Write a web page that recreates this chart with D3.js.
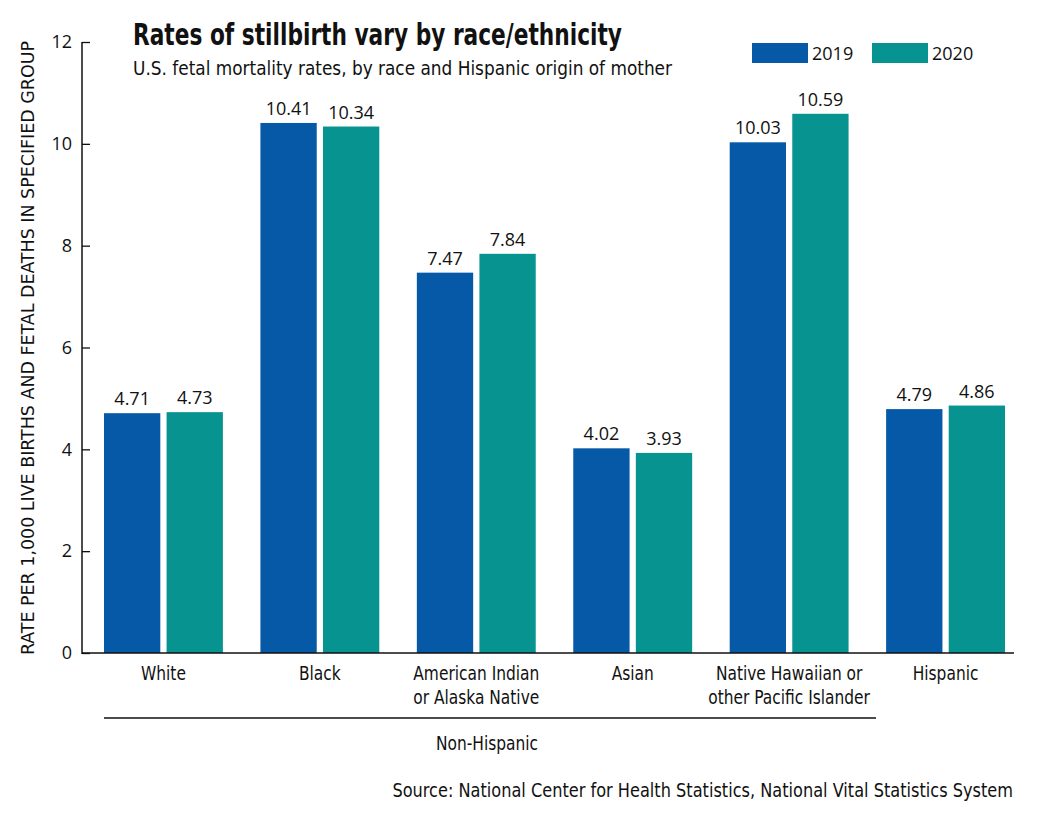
<!DOCTYPE html>
<html lang="en">
<head>
<meta charset="UTF-8">
<title>Rates of stillbirth vary by race/ethnicity</title>
<style>
    body { margin: 0; background: #fff; }
    svg { display: block; }
    .cond { font-family: "Liberation Sans Narrow", "DejaVu Sans Condensed", "Roboto", sans-serif; fill: #111; }
    .num { font-family: "Open Sans", "DejaVu Sans", sans-serif; fill: #111; }
</style>
<script src="https://d3js.org/d3.v7.min.js"></script>
</head>
<body>
<div id="graph"></div>
<script>
const categories = [
    ["White"],
    ["Black"],
    ["American Indian", "or Alaska Native"],
    ["Asian"],
    ["Native Hawaiian or", "other Pacific Islander"],
    ["Hispanic"]
];
const years = ["2019", "2020"];
const values2019 = [4.71, 10.41, 7.47, 4.02, 10.03, 4.79];
const values2020 = [4.73, 10.34, 7.84, 3.93, 10.59, 4.86];
const yTicks = [0, 2, 4, 6, 8, 10, 12];
const colors = { "2019": "#0559a7", "2020": "#079390" };

const width = 1042, height = 817;
const svg = d3.select("#graph").append("svg")
    .attr("width", width).attr("height", height);

const keys = categories.map(c => c.join(" "));
const data = keys.map((k, i) => ({ key: k, lines: categories[i], "2019": values2019[i], "2020": values2020[i] }));

const x0 = d3.scaleBand().domain(keys).range([104, 1005]).paddingInner(0.24).paddingOuter(0);
const x1 = d3.scaleBand().domain(years).range([0, x0.bandwidth()]).paddingInner(0.1);
const y = d3.scaleLinear().domain([0, 12]).range([653, 42]);

// y axis, ticks pointing inward
const yAxis = svg.append("g")
    .attr("transform", "translate(82,0)")
    .call(d3.axisRight(y).tickValues(yTicks).tickSize(8).tickFormat(d3.format("d")));
yAxis.select(".domain").remove();
yAxis.selectAll("line").attr("stroke", "#111").attr("stroke-width", 1.3);
yAxis.selectAll("text")
    .attr("class", "num")
    .attr("x", -10)
    .attr("text-anchor", "end")
    .style("font-size", "18px");
svg.append("line").attr("x1", 82).attr("x2", 82).attr("y1", y(12)).attr("y2", y(0) + 1)
    .attr("stroke", "#111").attr("stroke-width", 1.5);

// bars
const groups = svg.append("g").selectAll("g").data(data).enter().append("g")
    .attr("transform", d => `translate(${x0(d.key)},0)`);

groups.selectAll("rect")
    .data(d => years.map(yr => ({ yr, v: d[yr] })))
    .enter().append("rect")
    .attr("x", d => x1(d.yr))
    .attr("width", x1.bandwidth())
    .attr("y", d => y(d.v))
    .attr("height", d => y(0) - y(d.v))
    .attr("fill", d => colors[d.yr]);

groups.selectAll("text.val")
    .data(d => years.map(yr => ({ yr, v: d[yr] })))
    .enter().append("text")
    .attr("class", "num val")
    .attr("x", d => x1(d.yr) + x1.bandwidth() / 2)
    .attr("y", d => y(d.v) - 8)
    .attr("text-anchor", "middle")
    .style("font-size", "18px")
    .text(d => d3.format(".2f")(d.v));

// x axis baseline
svg.append("line").attr("x1", 82).attr("x2", 1014).attr("y1", y(0)).attr("y2", y(0))
    .attr("stroke", "#111").attr("stroke-width", 1.5);

// category labels, squeezed horizontally to mimic a condensed face
groups.each(function (d) {
    const t = d3.select(this).append("g")
        .attr("transform", `translate(${x0.bandwidth() / 2},0) scale(0.88,1)`)
        .append("text")
        .attr("class", "cond")
        .attr("text-anchor", "middle")
        .style("font-size", "19.5px");
    d.lines.forEach((ln, i) => {
        t.append("tspan").attr("x", 0).attr("y", 680 + i * 24).text(ln);
    });
});

// Non-Hispanic bracket
svg.append("line").attr("x1", 104).attr("x2", 876).attr("y1", 718).attr("y2", 718)
    .attr("stroke", "#111").attr("stroke-width", 1.3);
svg.append("g").attr("transform", "translate(487,0) scale(0.88,1)")
    .append("text").attr("class", "cond").attr("x", 0).attr("y", 750)
    .attr("text-anchor", "middle").style("font-size", "19.5px").text("Non-Hispanic");

// y axis title
svg.append("text").attr("class", "cond")
    .attr("transform", "translate(34,348) rotate(-90)")
    .attr("text-anchor", "middle")
    .style("font-size", "18px")
    .attr("textLength", 614).attr("lengthAdjust", "spacingAndGlyphs")
    .text("RATE PER 1,000 LIVE BIRTHS AND FETAL DEATHS IN SPECIFIED GROUP");

// title and subtitle
svg.append("text").attr("class", "cond").attr("x", 133).attr("y", 45)
    .style("font-size", "30px").style("font-weight", "bold")
    .attr("textLength", 489).attr("lengthAdjust", "spacingAndGlyphs")
    .text("Rates of stillbirth vary by race/ethnicity");
svg.append("text").attr("class", "cond").attr("x", 133).attr("y", 75)
    .style("font-size", "20px")
    .attr("textLength", 539).attr("lengthAdjust", "spacingAndGlyphs")
    .text("U.S. fetal mortality rates, by race and Hispanic origin of mother");

// legend
const legend = svg.append("g").selectAll("g").data(years).enter().append("g")
    .attr("transform", (d, i) => `translate(${752 + i * 120},43)`);
legend.append("rect").attr("width", 56).attr("height", 20).attr("fill", d => colors[d]);
legend.append("text").attr("class", "num").attr("x", 60).attr("y", 17)
    .style("font-size", "18px").text(d => d);

// source, squeezed to its width by a horizontal scale
const src = svg.append("g").attr("transform", "translate(1013,0)")
    .append("text").attr("class", "cond").attr("x", 0).attr("y", 797)
    .attr("text-anchor", "end").style("font-size", "19px")
    .text("Source: National Center for Health Statistics, National Vital Statistics System");
const srcW = src.node().getComputedTextLength();
d3.select(src.node().parentNode).attr("transform", `translate(1013,0) scale(${Math.min(1, 621 / srcW)},1)`);
</script>
</body>
</html>
